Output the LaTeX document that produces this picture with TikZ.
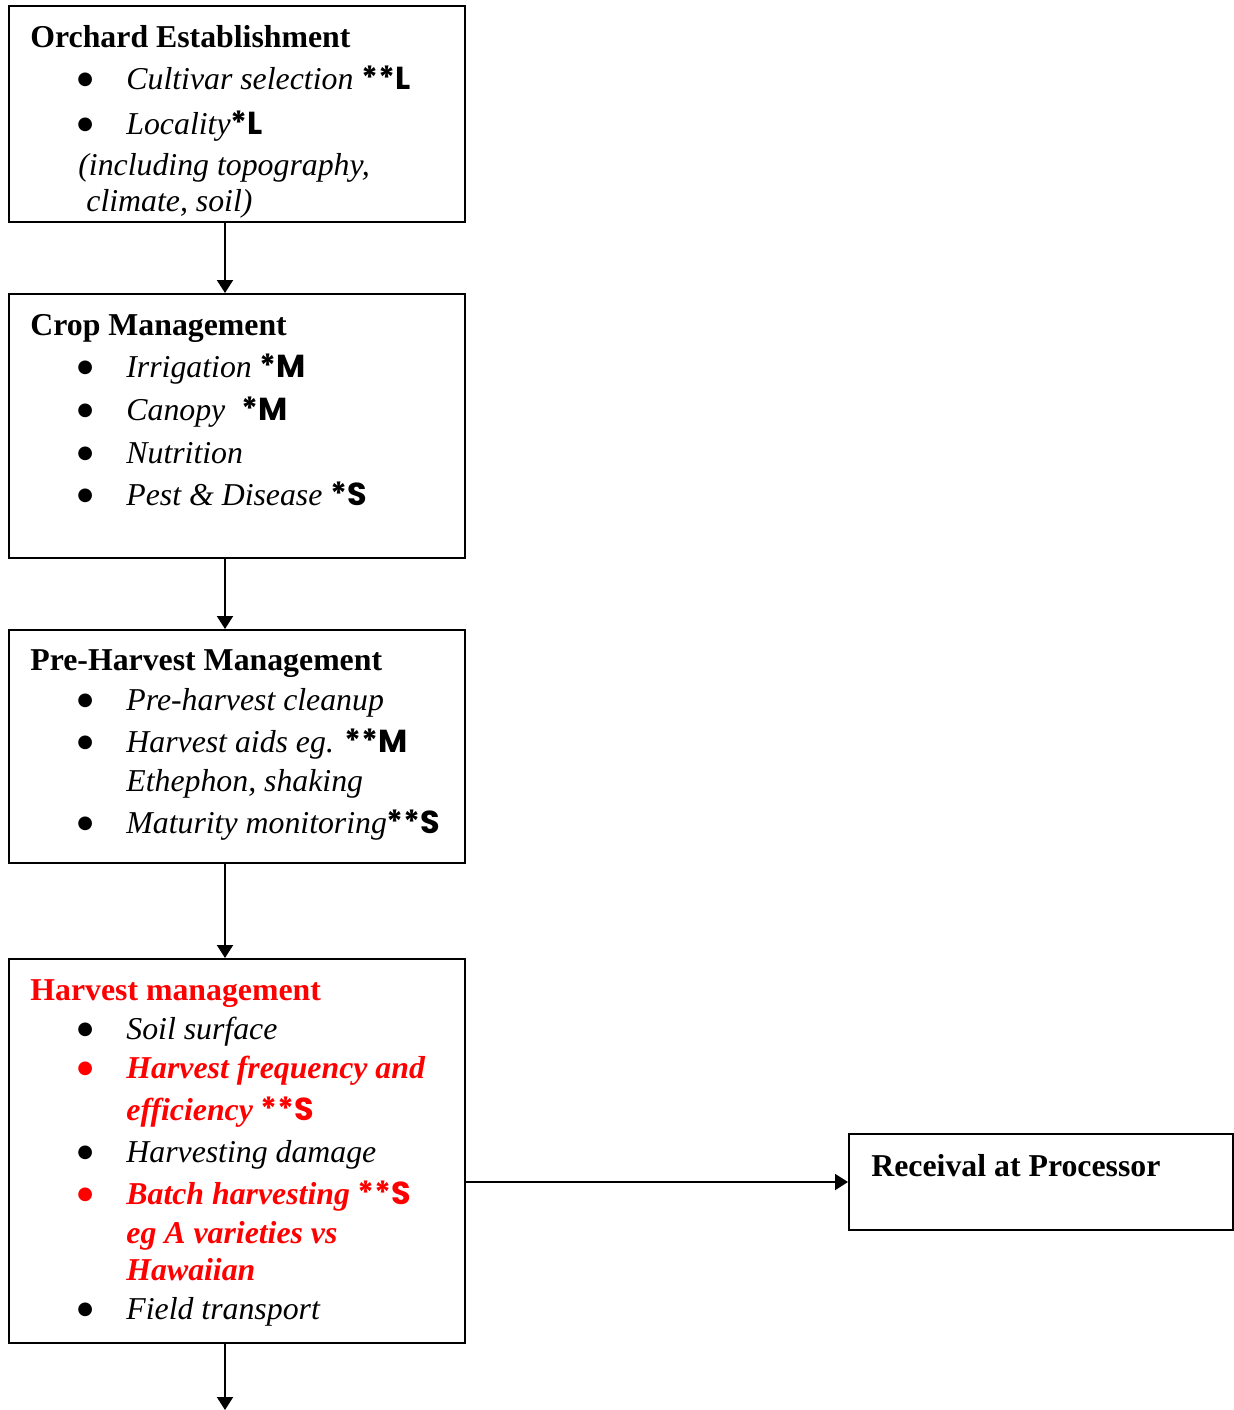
\documentclass[tikz,border=0pt]{standalone}
\usepackage{fontspec}
\setmainfont{Liberation Serif}
\newfontfamily\comic{Poppins}
\newfontfamily\dejavu{DejaVu Sans}
\usetikzlibrary{arrows.meta,fit}
\definecolor{hred}{RGB}{255,0,0}
\newcommand\mk[1]{{\comic\upshape\bfseries #1}}
\begin{document}
\begin{tikzpicture}[x=0.5pt,y=-0.5pt,
  box/.style={draw, line width=1pt, inner sep=0pt},
  txt/.style={anchor=base west, inner sep=0pt, font=\fontsize{15.9pt}{19pt}\selectfont},
  ttl/.style={txt, font=\fontsize{15.9pt}{19pt}\selectfont\bfseries},
  itm/.style={txt, font=\fontsize{15.9pt}{19pt}\selectfont\itshape},
  ritm/.style={txt, text=hred, font=\fontsize{15.9pt}{19pt}\selectfont\bfseries\itshape},
  bul/.style={anchor=base west, inner sep=0pt, font=\dejavu\fontsize{9pt}{9pt}\selectfont, xshift=-1.5pt, yshift=2.5pt},
  arr/.style={-{Triangle[length=6.5pt,width=8pt]}, line width=1pt}]
\useasboundingbox (0,0) rectangle (1234,1410);

% boxes
\node[box, fit={(9,6) (465,222)}] (b1) {};
\node[box, fit={(9,294) (465,558)}] (b2) {};
\node[box, fit={(9,630) (465,863)}] (b3) {};
\node[box, fit={(9,959) (465,1343)}] (b4) {};
\node[box, fit={(849,1134) (1233,1230)}] (b5) {};

% box 1
\node[ttl] (o0) at (30,47) {Orchard Establishment};
\node[bul] (o1b) at (80,89) {●};
\node[itm] (o1) at (126,89) {Cultivar selection \mk{**L}};
\node[bul] (o2b) at (80,134) {●};
\node[itm] (o2) at (126,134) {Locality\mk{*L}};
\node[itm] (o3) at (78,175) {(including topography,};
\node[itm] (o4) at (86,211) {climate, soil)};

% box 2
\node[ttl] (c0) at (30,335) {Crop Management};
\node[bul] (c1b) at (80,377) {●};
\node[itm] (c1) at (126,377) {Irrigation \mk{*M}};
\node[bul] (c2b) at (80,420) {●};
\node[itm] (c2) at (126,420) {Canopy~~\mk{*M}};
\node[bul] (c3b) at (80,463) {●};
\node[itm] (c3) at (126,463) {Nutrition};
\node[bul] (c4b) at (80,505) {●};
\node[itm] (c4) at (126,505) {Pest \& Disease \mk{*S}};

% box 3
\node[ttl] (p0) at (30,670) {Pre-Harvest Management};
\node[bul] (p1b) at (80,710) {●};
\node[itm] (p1) at (126,710) {Pre-harvest cleanup};
\node[bul] (p2b) at (80,752) {●};
\node[itm] (p2) at (126,752) {Harvest aids eg. \mk{**M}};
\node[itm] (p3) at (126,791) {Ethephon, shaking};
\node[bul] (p4b) at (80,833) {●};
\node[itm] (p4) at (126,833) {Maturity monitoring\mk{**S}};

% box 4
\node[ttl, text=hred] (h0) at (30,1000) {Harvest management};
\node[bul] (h1b) at (80,1039) {●};
\node[itm] (h1) at (126,1039) {Soil surface};
\node[bul, text=hred] (h2b) at (80,1078) {●};
\node[ritm] (h2) at (126,1078) {Harvest frequency and};
\node[ritm] (h3) at (126,1120) {efficiency \mk{**S}};
\node[bul] (h4b) at (80,1162) {●};
\node[itm] (h4) at (126,1162) {Harvesting damage};
\node[bul, text=hred] (h5b) at (80,1204) {●};
\node[ritm] (h5) at (126,1204) {Batch harvesting \mk{**S}};
\node[ritm] (h6) at (126,1243) {eg A varieties vs};
\node[ritm] (h7) at (126,1280) {Hawaiian};
\node[bul] (h8b) at (80,1319) {●};
\node[itm] (h8) at (126,1319) {Field transport};

% box 5
\node[ttl] (r0) at (871,1176) {Receival at Processor};

% connectors
\coordinate (ax) at (225,0);
\coordinate (endpt) at (225,1410);
\draw[arr] (b1.south -| ax) -- (b2.north -| ax);
\draw[arr] (b2.south -| ax) -- (b3.north -| ax);
\draw[arr] (b3.south -| ax) -- (b4.north -| ax);
\draw[arr] (b4.south -| ax) -- (endpt);
\draw[arr] (b4.east |- b5.west) -- (b5.west);
\end{tikzpicture}
\end{document}
